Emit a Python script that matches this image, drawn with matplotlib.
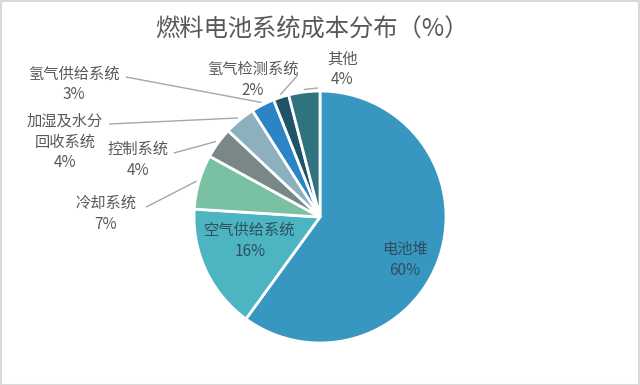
import numpy as np
import matplotlib
matplotlib.use("Agg")
import matplotlib.pyplot as plt
from matplotlib.patches import Rectangle

plt.rcParams['font.family'] = ['Noto Sans CJK SC', 'DejaVu Sans']

labels = ['电池堆', '空气供给系统', '冷却系统', '控制系统', '加湿及水分\n回收系统',
          '氢气供给系统', '氢气检测系统', '其他']
values = [60, 16, 7, 4, 4, 3, 2, 4]
colors = ['#3797C0', '#4DB5C2', '#79C1A2', '#798787', '#8DB0BE',
          '#2B84C6', '#1F5367', '#2E737D']

# text placement (data units, pie radius = 1) and leader line start
label_pos = {
    0: (0.675, -0.34, None),
    1: (-0.556, -0.19, None),
    2: (-1.698, 0.024, (-1.38, 0.079)),
    3: (-1.444, 0.452, (-1.16, 0.508)),
    4: (-2.024, 0.595, (-1.675, 0.738)),
    5: (-1.952, 1.052, (-1.54, 1.111)),
    6: (-0.532, 1.087, (-0.175, 1.127)),
    7: (0.175, 1.171, (-0.016, 1.024)),
}

fig = plt.figure(figsize=(6.4, 3.85), dpi=100)
ax = fig.add_axes([0, 0, 1, 1])

wedges, _ = ax.pie(values, colors=colors, startangle=90, counterclock=False,
                   radius=1, center=(0, 0),
                   wedgeprops=dict(edgecolor='white', linewidth=2))

ax.set_xlim(-320 / 126, 320 / 126)
ax.set_ylim(-168 / 126, 217 / 126)
ax.set_aspect('equal')
ax.axis('off')

txt_color = '#595959'
line_color = '#A6A6A6'
for i, w in enumerate(wedges):
    tx, ty, anchor = label_pos[i]
    txt = f'{labels[i]}\n{values[i]}%'
    c = '#2F4F5F' if anchor is None else txt_color
    ax.text(tx, ty, txt, ha='center', va='center', fontsize=11,
            color=c, linespacing=1.3)
    if anchor is not None:
        mid = np.deg2rad((w.theta1 + w.theta2) / 2)
        ex, ey = np.cos(mid) * 1.02, np.sin(mid) * 1.02
        ax.plot([anchor[0], ex], [anchor[1], ey], color=line_color, lw=1,
                solid_capstyle='butt')

fig.text(312 / 640, 1 - 30 / 385, '燃料电池系统成本分布（%）', ha='center', va='center',
         fontsize=17.5, color='#595959')

fig.patches.append(Rectangle((0.001, 0.001), 0.997, 0.996, transform=fig.transFigure,
                             fill=False, edgecolor='#D9D9D9', lw=1.5))

fig.savefig('out.png', dpi=100)
